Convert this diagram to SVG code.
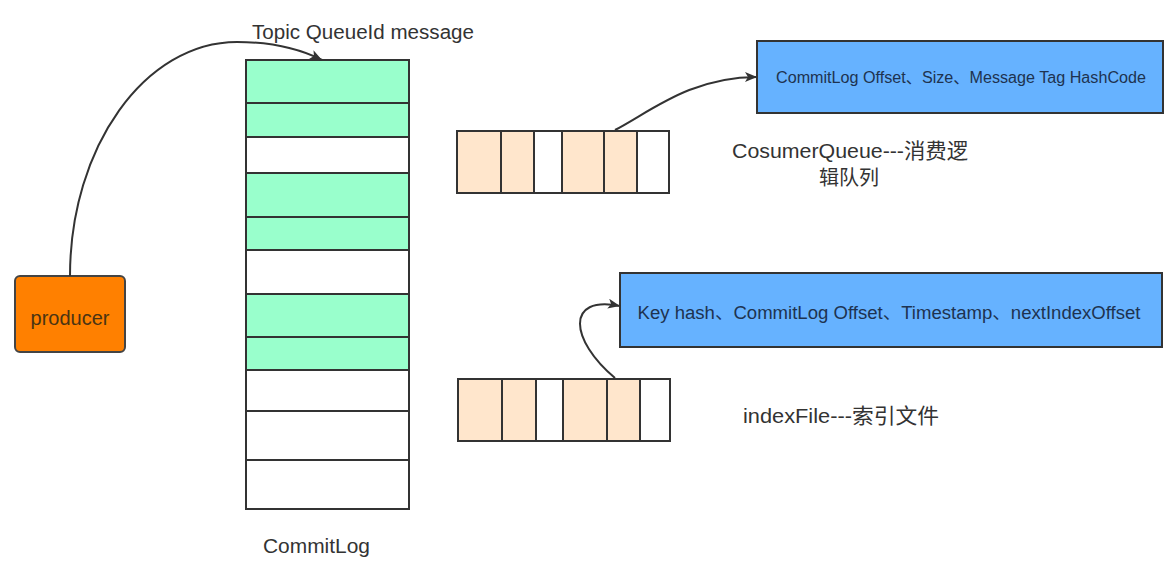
<svg xmlns="http://www.w3.org/2000/svg" width="1165" height="571" viewBox="0 0 1165 571">
  <style>
    .lbl { font-family: "Liberation Sans", "Noto Sans CJK SC", sans-serif; font-size: 20px; fill: #333333; }
    .btxt { font-family: "Liberation Sans", "Noto Sans CJK SC", sans-serif; fill: #1e3350; text-anchor: middle; }
    .cell { stroke: #333333; stroke-width: 2; }
    .green { fill: #99FFCC; }
    .white { fill: #FFFFFF; }
    .peach { fill: #FFE6CC; }
    .blue { fill: #66B2FF; stroke: #333333; stroke-width: 2; }
    .conn { fill: none; stroke: #333333; stroke-width: 2; }
  </style>
  <defs>
    <marker id="arrow" viewBox="0 0 12 10" refX="12" refY="5" markerWidth="12" markerHeight="10" markerUnits="userSpaceOnUse" orient="auto">
      <path d="M0,0 L12,5 L0,10 L3,5 Z" fill="#333333"/>
    </marker>
  </defs>
  <rect width="1165" height="571" fill="#FFFFFF"/>

  <g id="producer">
    <rect x="15" y="276" width="110" height="76" rx="5" fill="#FF8000" stroke="#444444" stroke-width="2"/>
    <text x="70" y="325" text-anchor="middle" style="font-family: 'Liberation Sans', sans-serif; font-size: 20px; fill: #4a3413;">producer</text>
  </g>

  <g id="commitlog">
    <rect class="cell green" x="246" y="60" width="163" height="43"/>
    <rect class="cell green" x="246" y="103" width="163" height="34"/>
    <rect class="cell white" x="246" y="137" width="163" height="36"/>
    <rect class="cell green" x="246" y="173" width="163" height="44"/>
    <rect class="cell green" x="246" y="217" width="163" height="33"/>
    <rect class="cell white" x="246" y="250" width="163" height="44"/>
    <rect class="cell green" x="246" y="294" width="163" height="43"/>
    <rect class="cell green" x="246" y="337" width="163" height="33"/>
    <rect class="cell white" x="246" y="370" width="163" height="41"/>
    <rect class="cell white" x="246" y="411" width="163" height="49"/>
    <rect class="cell white" x="246" y="460" width="163" height="49"/>
  </g>
  <g id="label-topic">
    <text class="lbl" x="252" y="39" textLength="222" lengthAdjust="spacingAndGlyphs">Topic QueueId message</text>
  </g>
  <g id="label-commitlog">
    <text class="lbl" x="263" y="553" textLength="107" lengthAdjust="spacingAndGlyphs">CommitLog</text>
  </g>

  <g id="consumequeue">
    <rect class="cell peach" x="457" y="131" width="44" height="62"/>
    <rect class="cell peach" x="501" y="131" width="33" height="62"/>
    <rect class="cell white" x="534" y="131" width="28" height="62"/>
    <rect class="cell peach" x="562" y="131" width="42" height="62"/>
    <rect class="cell peach" x="604" y="131" width="33" height="62"/>
    <rect class="cell white" x="637" y="131" width="32" height="62"/>
  </g>
  <g id="label-consumequeue">
    <text class="lbl" x="850" y="158" text-anchor="middle" style="font-size:21px" textLength="236" lengthAdjust="spacingAndGlyphs">CosumerQueue---消费逻</text>
    <text class="lbl" x="849" y="185" text-anchor="middle">辑队列</text>
  </g>

  <g id="cq-entry">
    <rect class="blue" x="757" y="41" width="406" height="72"/>
    <text class="btxt" x="961" y="83" style="font-size:16px" textLength="370" lengthAdjust="spacingAndGlyphs">CommitLog Offset、Size、Message Tag HashCode</text>
  </g>

  <g id="indexfile">
    <rect class="cell peach" x="458" y="379" width="44" height="62"/>
    <rect class="cell peach" x="502" y="379" width="34" height="62"/>
    <rect class="cell white" x="536" y="379" width="27" height="62"/>
    <rect class="cell peach" x="563" y="379" width="44" height="62"/>
    <rect class="cell peach" x="607" y="379" width="33" height="62"/>
    <rect class="cell white" x="640" y="379" width="30" height="62"/>
  </g>
  <g id="label-indexfile">
    <text class="lbl" x="743" y="423" style="font-size:21px" textLength="196" lengthAdjust="spacingAndGlyphs">indexFile---索引文件</text>
  </g>

  <g id="index-entry">
    <rect class="blue" x="620" y="273" width="542" height="74"/>
    <text class="btxt" x="889" y="319" style="font-size:18px" textLength="503" lengthAdjust="spacingAndGlyphs">Key hash、CommitLog Offset、Timestamp、nextIndexOffset</text>
  </g>

  <g id="connectors">
    <path class="conn" d="M70,276 C70,147 145,42 237,42 C275,42 300,49 322,60" marker-end="url(#arrow)"/>
    <path class="conn" d="M615,130 C650,112 690,77 757,77" marker-end="url(#arrow)"/>
    <path class="conn" d="M615,378 C570,340 565,295 620,306" marker-end="url(#arrow)"/>
  </g>
</svg>
